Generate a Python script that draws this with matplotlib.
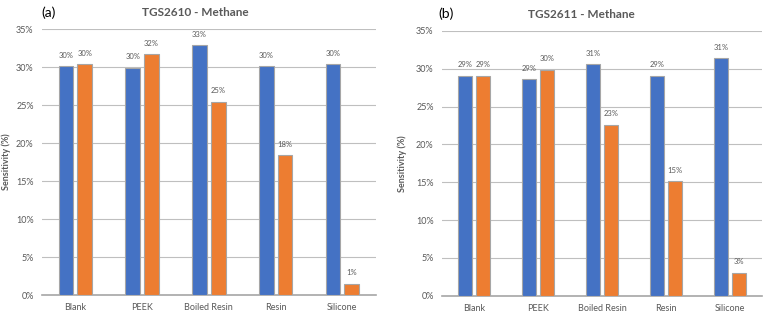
import matplotlib
matplotlib.use("Agg")
import matplotlib.pyplot as plt
import numpy as np

plt.rcParams['font.family'] = ['Lato', 'DejaVu Sans']

categories = ["Blank", "PEEK", "Boiled Resin", "Resin", "Silicone"]
a_blue = [30.1, 29.9, 32.85, 30.1, 30.35]
a_orange = [30.35, 31.7, 25.4, 18.4, 1.45]
b_blue = [29.05, 28.6, 30.6, 29.1, 31.4]
b_orange = [29.05, 29.9, 22.6, 15.1, 3.0]
yticks = [0, 5, 10, 15, 20, 25, 30, 35]
titles = ["TGS2610 - Methane", "TGS2611 - Methane"]
panels = ["(a)", "(b)"]

blue = "#4472c4"
orange = "#ed7d31"
grey_txt = "#595959"

fig = plt.figure(figsize=(7.7, 3.19), dpi=100)
axes = [fig.add_axes([0.0545, 0.0752, 0.4335, 0.8338]),
        fig.add_axes([0.574, 0.073, 0.4156, 0.830])]

data = [(a_blue, a_orange), (b_blue, b_orange)]
x = np.arange(len(categories))
w = 0.22
off = 0.14
label_x = [-0.093, -0.109]
for ax, (bl, orr), lx in zip(axes, data, label_x):
    b1 = ax.bar(x - off, bl, w, color=blue, edgecolor="#a6a6a6", linewidth=0.8, zorder=3)
    b2 = ax.bar(x + off, orr, w, color=orange, edgecolor="#a6a6a6", linewidth=0.8, zorder=3)
    for bars, vals in ((b1, bl), (b2, orr)):
        for r, v in zip(bars, vals):
            ax.text(r.get_x() + r.get_width() / 2, v + 1.0, f"{round(v):.0f}%",
                    ha="center", va="bottom", fontsize=5.5, color=grey_txt)
    ax.set_xlim(-0.5, len(categories) - 0.5)
    ax.set_ylim(0, 35)
    ax.set_yticks(yticks)
    ax.set_yticklabels([f"{t}%" for t in yticks])
    ax.set_xticks(x)
    ax.set_xticklabels(categories)
    ax.tick_params(axis='both', length=0, labelsize=6.5, colors=grey_txt, pad=6)
    ax.grid(axis='y', color="#bfbfbf", linewidth=0.8, zorder=0)
    for s in ("top", "right", "left"):
        ax.spines[s].set_visible(False)
    ax.spines["bottom"].set_color("#a6a6a6")
    ax.spines["bottom"].set_linewidth(1.2)
    ax.set_ylabel("Sensitivity (%)", fontsize=6.5, fontweight="bold", color=grey_txt)
    ax.yaxis.set_label_coords(lx, 0.5)

fig.text(195 / 770, 1 - 13 / 319, titles[0], ha="center", va="center",
         fontsize=8.5, fontweight="bold", color=grey_txt)
fig.text(581 / 770, 1 - 14 / 319, titles[1], ha="center", va="center",
         fontsize=8.5, fontweight="bold", color=grey_txt)
fig.text(41 / 770, 1 - 13 / 319, panels[0], ha="left", va="center", fontsize=10, color="black")
fig.text(438 / 770, 1 - 14 / 319, panels[1], ha="left", va="center", fontsize=10, color="black")

fig.savefig("out.png", dpi=100)
